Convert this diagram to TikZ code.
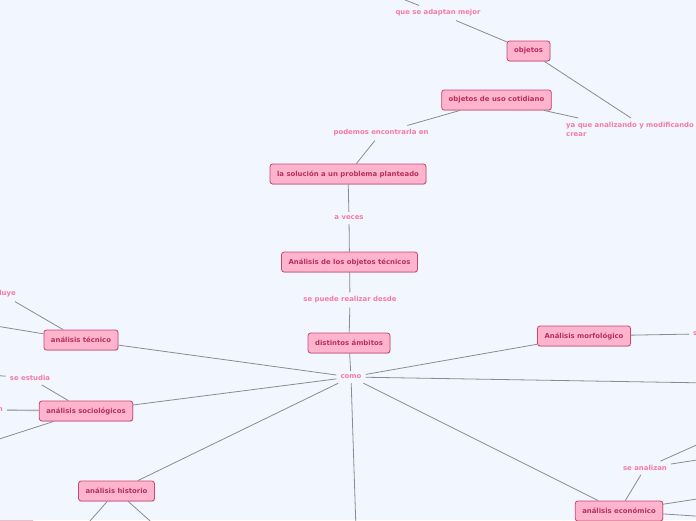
\documentclass[tikz,border=0pt]{standalone}
\usepackage{fontspec}
\newfontfamily\mapfont{DejaVu Sans}
\usetikzlibrary{shadows}
\definecolor{bgcol}{HTML}{F2F6FE}
\definecolor{boxfill}{HTML}{FFB4CD}
\definecolor{boxline}{HTML}{C9466F}
\definecolor{boxtext}{HTML}{B5305C}
\definecolor{linktext}{HTML}{F47BA8}
\definecolor{linkcol}{HTML}{8A8A96}
\tikzset{
  topic/.style={draw=boxline, fill=boxfill, text=boxtext, rounded corners=2.5pt,
    line width=0.8pt, minimum height=20pt, inner xsep=7pt,
    font=\mapfont\bfseries\fontsize{6.9}{8}\selectfont,
    drop shadow={opacity=.25, shadow xshift=.6pt, shadow yshift=-.8pt}},
  rel/.style={text=linktext, inner sep=4pt, font=\mapfont\bfseries\fontsize{6.9}{9}\selectfont},
  link/.style={draw=linkcol, line width=.8pt}
}

\begin{document}
\begin{tikzpicture}[x=1pt,y=-1pt]
\useasboundingbox (0,0) rectangle (696,520);
\fill[bgcol] (0,0) rectangle (696,520);
\clip (0,0) rectangle (696,520);

\node[topic] (objetos) at (528.5,51) {objetos};
\node[topic] (cotidiano) at (496.5,100) {objetos de uso cotidiano};
\node[topic] (solucion) at (348,174) {la solución a un problema planteado};
\node[topic] (analisis) at (349.5,262) {Análisis de los objetos técnicos};
\node[topic] (ambitos) at (349,343) {distintos ámbitos};
\node[topic] (tecnico) at (81,340) {análisis técnico};
\node[topic] (socio) at (86,411) {análisis sociológicos};
\node[topic] (historio) at (116.5,491) {análisis historio};
\node[topic] (morfo) at (584,336) {Análisis morfológico};
\node[topic] (economico) at (619,511) {análisis económico};
\node[topic, minimum width=70pt] (abajo) at (0,531) {};

\node[rel] (adaptan) at (438,13) {que se adaptan mejor};
\node[rel] (podemos) at (381,133) {podemos encontrarla en};
\node[rel, align=left, anchor=north west] (yaque) at (562,118) {ya que analizando y modificando\\crear};
\node[rel] (aveces) at (349,218) {a veces};
\node[rel] (desde) at (350,300) {se puede realizar desde};
\node[rel] (como) at (351,377) {como};
\node[rel] (analizan) at (645,468) {se analizan};
\node[rel] (estudia) at (30,378) {se estudia};
\node[rel, anchor=east] (incluye) at (20,294) {incluye};
\node[rel, anchor=east] (sociotxt) at (7,410) {n};
\node[rel, anchor=west] (morfotxt) at (689,334) {s};

\coordinate (arriba) at (370,-14);
\coordinate (derecha) at (710,383);
\coordinate (sur) at (356,530);
\coordinate (tecizq) at (-10,325);
\coordinate (socizq) at (-10,442);
\coordinate (estizq) at (-10,375);
\coordinate (anA) at (710,439);
\coordinate (anB) at (710,458);
\coordinate (ecA) at (710,497);
\coordinate (ecB) at (710,517);
\coordinate (hisA) at (82,530);
\coordinate (hisB) at (158,528);

\draw[link] (adaptan) -- (arriba);
\draw[link] (adaptan) -- (objetos);
\draw[link] (objetos) -- ([xshift=69pt]yaque.north west);
\draw[link] (cotidiano) -- (yaque);
\draw[link] (cotidiano) -- (podemos);
\draw[link] (podemos) -- (solucion);
\draw[link] (solucion) -- (aveces);
\draw[link] (aveces) -- (analisis);
\draw[link] (analisis) -- (desde);
\draw[link] (desde) -- (ambitos);
\draw[link] (ambitos) -- (como);
\draw[link] (como) -- (tecnico);
\draw[link] (como) -- (socio);
\draw[link] (como) -- (historio);
\draw[link] (como) -- (morfo);
\draw[link] (como) -- (derecha);
\draw[link] (como) -- (economico);
\draw[link] (como) -- (sur);
\draw[link] (morfo) -- (morfotxt);
\draw[link] (economico) -- (analizan);
\draw[link] (analizan) -- (anA);
\draw[link] (analizan) -- (anB);
\draw[link] (economico) -- (ecA);
\draw[link] (economico) -- (ecB);
\draw[link] (tecnico) -- (incluye);
\draw[link] (tecnico) -- (tecizq);
\draw[link] (socio) -- (estudia);
\draw[link, line width=1.4pt, draw=linkcol!70] (socio) -- (sociotxt);
\draw[link] (socio) -- (socizq);
\draw[link] (estudia) -- (estizq);
\draw[link] (historio) -- (hisA);
\draw[link] (historio) -- (hisB);
\end{tikzpicture}
\end{document}
